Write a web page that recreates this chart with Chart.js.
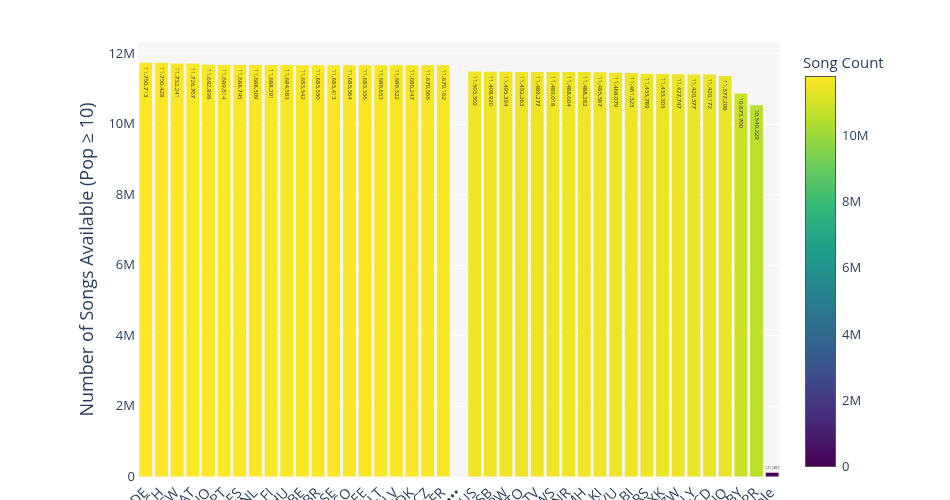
<!DOCTYPE html>
<html>
<head>
<meta charset="utf-8">
<script src="https://cdn.jsdelivr.net/npm/chart.js@4.4.1/dist/chart.umd.min.js"></script>
<style>
html,body{margin:0;padding:0;background:#fff;overflow:hidden}
#wrap{position:relative;width:950px;height:500px;font-family:"Open Sans",sans-serif}
#c{position:absolute;left:0;top:0}
#cb{position:absolute;left:805px;top:76px;width:29px;height:389px;border:1px solid #555}
.cbt{position:absolute;left:842px;font-size:13px;color:#2a3f5f;transform:translateY(-50%);white-space:nowrap}
#cbtitle{position:absolute;left:803px;top:52px;font-size:15px;color:#2a3f5f;white-space:nowrap}
</style>
</head>
<body>
<div id="wrap">
  <canvas id="c" width="950" height="500"></canvas>
  <div id="cbtitle">Song Count</div>
  <div id="cb"></div>
</div>
<script>
// categorias (paises ordenados por cantidad de canciones)
const COUNTRIES=['DE','CH','CW','AT','NO','PT','ES','NL','FI','HU','BE','BR','SE','CO','EE','LT','LV','DK','CZ','FR',
  '•••',
  'US','SB','PW','TO','TV','WS','NR','MH','KI','VU','BI','RS','XK','ZW','LY','CD','IQ','BY','PR','Unavailable'];
const SONGS=[11750713,11750428,11732241,11726767,11692898,11689614,11688745,11688309,11688291,11684583,
  11683542,11683530,11683413,11683364,11683336,11680653,11680322,11680247,11679366,11679162,
  null,
  11503302,11498920,11495394,11492263,11489277,11489018,11488604,11488282,11485387,11468079,
  11461323,11435789,11435303,11427747,11420377,11420172,11377208,10875700,10549229,121487];
const Y_TICKS=[0,2e6,4e6,6e6,8e6,10e6,12e6];
const Y_MAX=12.34e6;
const CB_TICKS=[0,2e6,4e6,6e6,8e6,10e6];

// escala viridis
const VIRIDIS=['#440154','#482878','#3e4989','#31688e','#26828e','#1f9e89','#35b779','#6ece58','#b5de2b','#fde725'];
const CMAX=Math.max(...SONGS.filter(v=>v!==null));

function hex2rgb(h){return [1,3,5].map(i=>parseInt(h.substr(i,2),16))}
function viridis(t){
  t=Math.max(0,Math.min(1,t));
  const n=VIRIDIS.length-1,p=t*n,i=Math.min(n-1,Math.floor(p)),f=p-i;
  const a=hex2rgb(VIRIDIS[i]),b=hex2rgb(VIRIDIS[i+1]);
  return 'rgb('+a.map((c,k)=>Math.round(c+(b[k]-c)*f)).join(',')+')';
}
function fmtM(v){return v===0?'0':(v/1e6)+'M'}

// barra de color (HTML)
document.getElementById('cb').style.background='linear-gradient(to top,'+VIRIDIS.map((c,i)=>c+' '+(i/(VIRIDIS.length-1)*100).toFixed(1)+'%').join(',')+')';
const wrap=document.getElementById('wrap');
CB_TICKS.forEach(v=>{
  const el=document.createElement('div');
  el.className='cbt';
  el.textContent=fmtM(v);
  el.style.top=(77+389*(1-v/CMAX))+'px';
  wrap.appendChild(el);
});

const plotBg={id:'plotBg',beforeDraw(ch){
  const a=ch.chartArea,ctx=ch.ctx;
  ctx.save();ctx.fillStyle='#f6f6f6';ctx.fillRect(a.left,a.top,a.right-a.left,a.bottom-a.top);ctx.restore();
}};

const barText={id:'barText',afterDatasetsDraw(ch){
  const ctx=ch.ctx,meta=ch.getDatasetMeta(0);
  ctx.save();
  meta.data.forEach((el,i)=>{
    const v=SONGS[i];
    if(v===null)return;
    const s=v.toLocaleString('en-US');
    const h=el.base-el.y;
    if(h>40){
      ctx.translate(el.x,el.y+4);
      ctx.rotate(Math.PI/2);
      ctx.font='6px "Open Sans"';
      ctx.fillStyle='#333';
      ctx.textAlign='left';ctx.textBaseline='middle';
      ctx.fillText(s,0,0);
      ctx.setTransform(1,0,0,1,0,0);
    }else{
      ctx.font='4px "Open Sans"';
      ctx.fillStyle='#444';
      ctx.textAlign='center';ctx.textBaseline='bottom';
      ctx.fillText(s,el.x,el.y-3);
    }
  });
  ctx.restore();
}};

new Chart(document.getElementById('c'),{
  type:'bar',
  data:{labels:COUNTRIES,datasets:[{
    data:SONGS,
    backgroundColor:SONGS.map(v=>v===null?'transparent':viridis(v/CMAX)),
    borderWidth:0,
    barPercentage:0.82,categoryPercentage:1
  }]},
  options:{
    responsive:false,animation:false,
    layout:{padding:{left:73,right:170,top:42,bottom:0}},
    plugins:{legend:{display:false},tooltip:{enabled:false}},
    scales:{
      x:{
        grid:{display:false},border:{display:false},
        ticks:{autoSkip:false,maxRotation:45,minRotation:45,padding:0,color:'#2a3f5f',font:{family:'"Open Sans"',size:14}},
        afterFit(s){s.height=23}
      },
      y:{
        min:0,max:Y_MAX,
        afterBuildTicks(s){s.ticks=Y_TICKS.map(v=>({value:v}))},
        grid:{color:'#ffffff',lineWidth:1,drawTicks:false},border:{display:false},
        ticks:{padding:3,color:'#2a3f5f',font:{family:'"Open Sans"',size:13},callback:v=>fmtM(v)},
        title:{display:true,text:'Number of Songs Available (Pop ≥ 10)',color:'#2a3f5f',font:{family:'"Open Sans"',size:18}},
        afterFit(s){s.width=65}
      }
    }
  },
  plugins:[plotBg,barText]
});
</script>
</body>
</html>
